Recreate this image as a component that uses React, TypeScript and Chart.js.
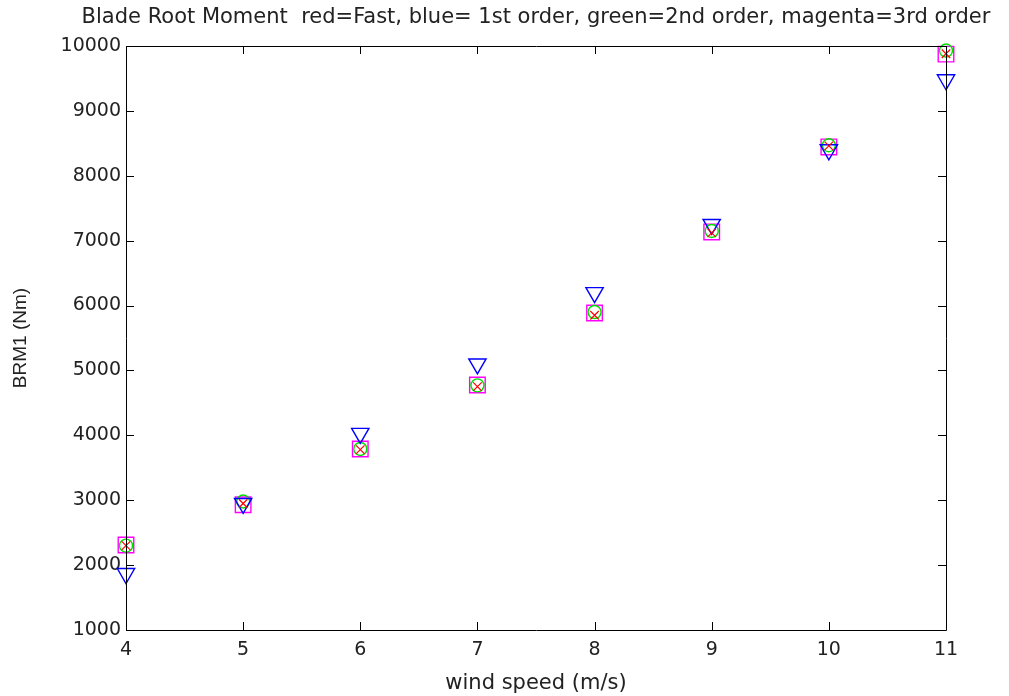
import React, { useEffect, useRef } from "react";
import { Chart, registerables } from "chart.js";

Chart.register(...registerables);

const windSpeeds = [4, 5, 6, 7, 8, 9, 10, 11];
const fastValues = [2300, 2950, 3780, 4750, 5850, 7120, 8460, 9880];
const firstOrder = [1870, 2950, 4030, 5100, 6200, 7250, 8400, 9480];
const secondOrder = [2300, 2980, 3790, 4770, 5900, 7150, 8470, 9930];
const thirdOrder = [2310, 2930, 3790, 4775, 5885, 7135, 8445, 9875];

const titleText =
  "Blade Root Moment  red=Fast, blue= 1st order, green=2nd order, magenta=3rd order";
const xTitle = "wind speed (m/s)";
const yTitle = "BRM1 (Nm)";

const FONT = "'DejaVu Sans', sans-serif";
const FONT_V = "'Liberation Sans', Arial, sans-serif";

const toPoints = (vals: number[]) => windSpeeds.map((x, i) => ({ x, y: vals[i] }));

const boxPlugin = {
  id: "matlabBox",
  afterDatasetsDraw(chart: any) {
    const { ctx, chartArea, scales } = chart;
    const { left, right, top, bottom } = chartArea;
    const tl = 8;
    ctx.save();
    ctx.strokeStyle = "#000";
    ctx.lineWidth = 1;
    ctx.beginPath();
    ctx.rect(Math.round(left) + 0.5, Math.round(top) + 0.5, Math.round(right - left), Math.round(bottom - top));
    ctx.stroke();
    ctx.beginPath();
    scales.x.ticks.forEach((t: any) => {
      const px = Math.round(scales.x.getPixelForValue(t.value)) + 0.5;
      ctx.moveTo(px, bottom);
      ctx.lineTo(px, bottom - tl);
      ctx.moveTo(px, top);
      ctx.lineTo(px, top + tl);
    });
    scales.y.ticks.forEach((t: any) => {
      const py = Math.round(scales.y.getPixelForValue(t.value)) + 0.5;
      ctx.moveTo(left, py);
      ctx.lineTo(left + tl, py);
      ctx.moveTo(right, py);
      ctx.lineTo(right - tl, py);
    });
    ctx.stroke();
    // title centred over the plot box, allowed to extend past it
    ctx.fillStyle = "#222";
    ctx.font = `normal 21px ${FONT}`;
    ctx.textAlign = "center";
    ctx.textBaseline = "middle";
    ctx.fillText(titleText, (left + right) / 2, 18);
    ctx.restore();
  },
};

export default function App() {
  const ref = useRef<HTMLCanvasElement | null>(null);

  useEffect(() => {
    document.body.style.margin = "0";
    const canvas = ref.current;
    if (!canvas) return;
    const common = { backgroundColor: "transparent", clip: false as any };
    const chart = new Chart(canvas, {
      type: "scatter",
      data: {
        datasets: [
          {
            ...common,
            label: "Fast",
            data: toPoints(fastValues),
            pointStyle: "crossRot",
            pointRadius: 6,
            borderColor: "#ff0000",
            borderWidth: 1.2,
          },
          {
            ...common,
            label: "1st order",
            data: toPoints(firstOrder),
            pointStyle: "triangle",
            rotation: 180,
            pointRadius: 10,
            borderColor: "#0000ff",
            borderWidth: 1.4,
          },
          {
            ...common,
            label: "2nd order",
            data: toPoints(secondOrder),
            pointStyle: "circle",
            pointRadius: 6.5,
            borderColor: "#00e000",
            borderWidth: 1.4,
          },
          {
            ...common,
            label: "3rd order",
            data: toPoints(thirdOrder),
            pointStyle: "rect",
            pointRadius: 11,
            borderColor: "#ff00ff",
            borderWidth: 1.4,
          },
        ],
      },
      options: {
        animation: false,
        responsive: false,
        layout: { padding: { left: 0, right: 63, top: 46, bottom: 0 } },
        plugins: {
          legend: { display: false },
          tooltip: { enabled: false },
          title: { display: false },
        },
        scales: {
          x: {
            type: "linear",
            min: 4,
            max: 11,
            ticks: {
              stepSize: 1,
              color: "#222",
              font: { family: FONT, size: 19 },
              padding: 9,
              maxRotation: 0,
              callback: (v: any) => String(v),
            },
            grid: { display: false, drawTicks: false, tickLength: 0 },
            border: { display: false },
            title: {
              display: true,
              text: xTitle,
              color: "#222",
              font: { family: FONT, size: 21 },
              padding: { top: 0, bottom: 0 },
            },
            afterFit: (s: any) => {
              s.height = 66;
            },
          },
          y: {
            type: "linear",
            min: 1000,
            max: 10000,
            ticks: {
              stepSize: 1000,
              color: "#222",
              font: { family: FONT, size: 19 },
              padding: 5,
              callback: (v: any) => String(v),
            },
            grid: { display: false, drawTicks: false, tickLength: 0 },
            border: { display: false },
            title: {
              display: true,
              text: yTitle,
              color: "#222",
              font: { family: FONT_V, size: 19 },
              padding: { top: 9, bottom: 0 },
            },
            afterFit: (s: any) => {
              s.width = 126;
            },
          },
        },
      },
      plugins: [boxPlugin],
    });
    return () => chart.destroy();
  }, []);

  return (
    <div style={{ position: "absolute", left: 0, top: 0, width: 1009, height: 696, background: "#fff" }}>
      <canvas ref={ref} width={1009} height={696} style={{ width: 1009, height: 696, display: "block" }} />
    </div>
  );
}
